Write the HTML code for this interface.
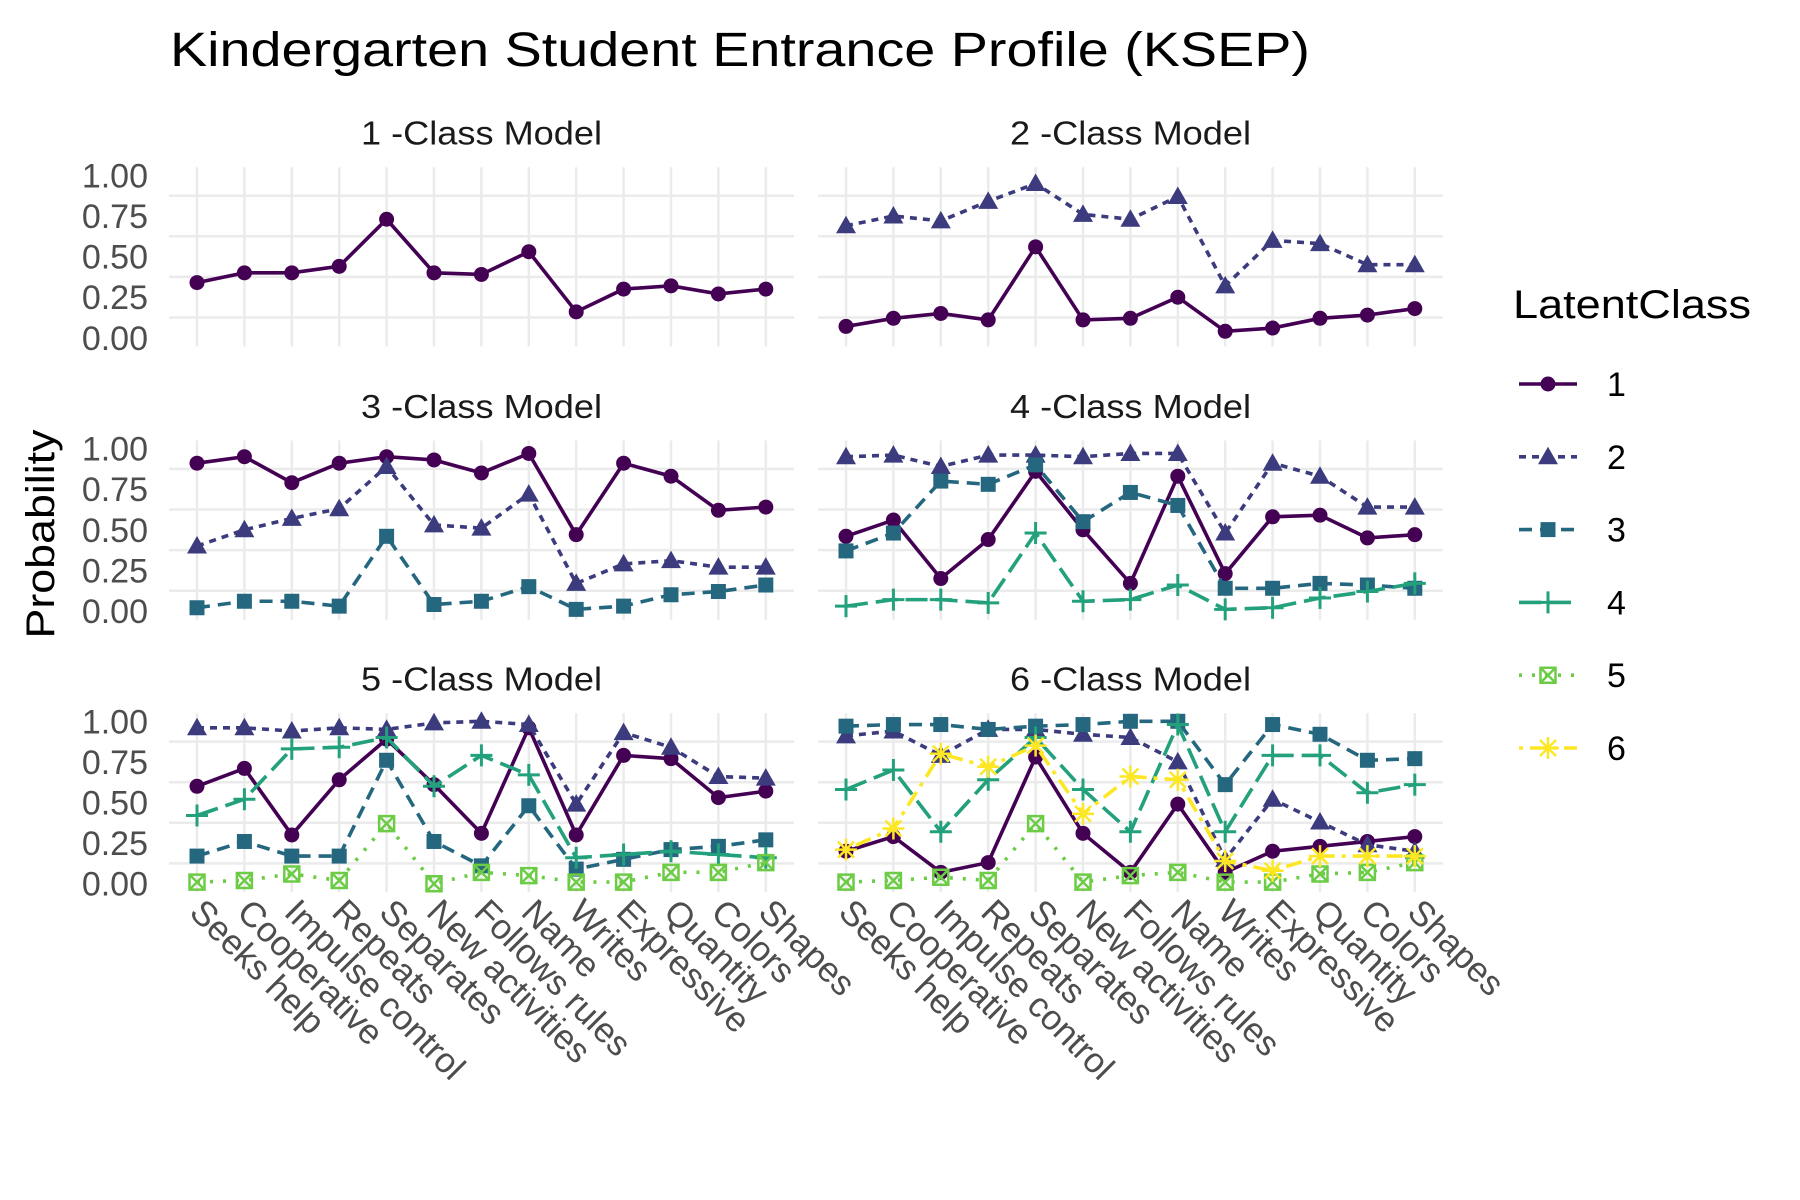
<!DOCTYPE html>
<html><head><meta charset="utf-8"><style>
html,body{margin:0;padding:0;background:#fff;}
svg{display:block;font-family:"Liberation Sans",Arial,sans-serif;}
</style></head><body>
<svg id="chart" width="1800" height="1200" viewBox="0 0 1800 1200" xmlns="http://www.w3.org/2000/svg">
<text x="170" y="66" font-size="48" textLength="1140" lengthAdjust="spacingAndGlyphs" fill="#000">Kindergarten Student Entrance Profile (KSEP)</text>
<text transform="translate(54,534) rotate(-90)" text-anchor="middle" font-size="40" textLength="209" lengthAdjust="spacingAndGlyphs" fill="#000">Probability</text>
<g id="panels"></g>
<g id="legend"></g>
</svg>
<script>
const categories = ["Seeks help","Cooperative","Impulse control","Repeats","Separates","New activities","Follows rules","Name","Writes","Expressive","Quantity","Colors","Shapes"];
const yTicks = [0,0.25,0.5,0.75,1];
const yTickLabels = ["0.00","0.25","0.50","0.75","1.00"];
const m1c1 = [0.34,0.40,0.40,0.44,0.73,0.40,0.39,0.53,0.16,0.30,0.32,0.27,0.30];
const m2c1 = [0.07,0.12,0.15,0.11,0.56,0.11,0.12,0.25,0.04,0.06,0.12,0.14,0.18];
const m2c2 = [0.69,0.75,0.72,0.84,0.95,0.76,0.73,0.87,0.32,0.60,0.58,0.45,0.45];
const m3c1 = [0.91,0.95,0.79,0.91,0.95,0.93,0.85,0.97,0.47,0.91,0.83,0.62,0.64];
const m3c2 = [0.40,0.50,0.57,0.63,0.89,0.53,0.51,0.72,0.17,0.29,0.31,0.27,0.27];
const m3c3 = [0.02,0.06,0.06,0.03,0.46,0.04,0.06,0.15,0.01,0.03,0.10,0.12,0.16];
const m4c1 = [0.46,0.56,0.20,0.44,0.86,0.50,0.17,0.83,0.23,0.58,0.59,0.45,0.47];
const m4c2 = [0.95,0.96,0.89,0.96,0.96,0.95,0.97,0.97,0.48,0.91,0.83,0.64,0.64];
const m4c3 = [0.37,0.48,0.80,0.78,0.90,0.55,0.73,0.65,0.14,0.14,0.17,0.16,0.14];
const m4c4 = [0.03,0.07,0.07,0.05,0.48,0.06,0.07,0.16,0.01,0.02,0.08,0.12,0.17];
const m5c1 = [0.60,0.71,0.30,0.64,0.89,0.61,0.31,0.96,0.30,0.79,0.77,0.53,0.57];
const m5c2 = [0.96,0.96,0.94,0.96,0.95,0.99,1.00,0.98,0.49,0.93,0.84,0.66,0.65];
const m5c3 = [0.17,0.26,0.17,0.17,0.76,0.26,0.11,0.48,0.09,0.15,0.21,0.23,0.27];
const m5c4 = [0.42,0.52,0.83,0.84,0.90,0.60,0.79,0.67,0.16,0.18,0.20,0.18,0.16];
const m5c5 = [0.01,0.02,0.06,0.02,0.37,0.00,0.07,0.05,0.01,0.01,0.07,0.07,0.13];
const m6c1 = [0.20,0.29,0.07,0.13,0.78,0.31,0.07,0.49,0.07,0.20,0.23,0.26,0.29];
const m6c2 = [0.91,0.94,0.79,0.95,0.95,0.92,0.90,0.75,0.15,0.52,0.38,0.24,0.20];
const m6c3 = [0.97,0.98,0.98,0.95,0.97,0.98,1.00,1.00,0.61,0.98,0.92,0.76,0.77];
const m6c4 = [0.58,0.70,0.32,0.64,0.90,0.58,0.32,0.98,0.32,0.79,0.79,0.56,0.61];
const m6c5 = [0.01,0.02,0.04,0.02,0.37,0.01,0.05,0.07,0.01,0.01,0.06,0.07,0.13];
const m6c6 = [0.21,0.34,0.80,0.72,0.85,0.43,0.66,0.64,0.14,0.08,0.17,0.17,0.17];
const models = [[m1c1],[m2c1,m2c2],[m3c1,m3c2,m3c3],[m4c1,m4c2,m4c3,m4c4],[m5c1,m5c2,m5c3,m5c4,m5c5],[m6c1,m6c2,m6c3,m6c4,m6c5,m6c6]];
const classLabels = ["1","2","3","4","5","6"];

const NS="http://www.w3.org/2000/svg";
const colors=["#440154","#3b3b7e","#25677f","#23a07c","#6ccc45","#fde725"];
const dashes=["none","7,6","13,8","22,8","3,10","4,7,16,7"];
const panelX=[169,818], panelW=625, rowY0=[337.8,611,883.7], unit=162.4;
function mk(tag,attrs,parent){const e=document.createElementNS(NS,tag);for(const k in attrs)e.setAttribute(k,attrs[k]);parent.appendChild(e);return e;}
function xScale(p,i){return panelX[p]+28+i*47.4;}
function yScale(r,v){return rowY0[r]-v*unit;}
function marker(g,c,x,y){
  const col=colors[c];let e;
  if(c===0){e=mk('circle',{cx:x,cy:y,r:7.5,fill:col},g);}
  else if(c===1){e=mk('polygon',{points:`${x},${y-10} ${x-10},${y+7.5} ${x+10},${y+7.5}`,fill:col},g);}
  else if(c===2){e=mk('rect',{x:x-7.5,y:y-7.5,width:15,height:15,fill:col},g);}
  else if(c===3){e=mk('path',{d:`M${x-11},${y}H${x+11}M${x},${y-11}V${y+11}`,stroke:col,'stroke-width':3,fill:'none'},g);}
  else if(c===4){e=mk('path',{d:`M${x-7.5},${y-7.5}h15v15h-15zM${x-7.5},${y-7.5}l15,15M${x+7.5},${y-7.5}l-15,15`,stroke:col,'stroke-width':2.5,fill:'none'},g);}
  else {e=mk('path',{d:`M${x-11},${y}H${x+11}M${x},${y-11}V${y+11}M${x-8},${y-8}l16,16M${x+8},${y-8}l-16,16`,stroke:col,'stroke-width':2.5,fill:'none'},g);}
  return e;
}
const panels=document.getElementById('panels');
models.forEach((series,m)=>{
  const p=m%2, r=Math.floor(m/2);
  const g=mk('g',{},panels);
  
  
  const x0=panelX[p];
  [0.125,0.375,0.625,0.875].forEach(v=>{
    const l=mk('line',{x1:x0,x2:x0+panelW,y1:yScale(r,v),y2:yScale(r,v),stroke:'#ebebeb','stroke-width':2.5},g);
    
    
  });
  categories.forEach((c,i)=>{
    const l=mk('line',{x1:xScale(p,i),x2:xScale(p,i),y1:yScale(r,1.05),y2:yScale(r,-0.053),stroke:'#ebebeb','stroke-width':2.5},g);
    
    
  });
  const t=mk('text',{x:x0+panelW/2,y:rowY0[r]-193.2,'text-anchor':'middle','font-size':33,fill:'#1a1a1a',textLength:241,lengthAdjust:'spacingAndGlyphs'},g);
  t.textContent=(m+1)+' -Class Model';
  
  
  if(p===0){
    yTicks.forEach((v,k)=>{
      const tl=mk('text',{x:148,y:yScale(r,v)+12,'text-anchor':'end','font-size':34,fill:'#4d4d4d'},g);
      tl.textContent=yTickLabels[k];
      
      
    });
  }
  if(r===2){
    categories.forEach((c,i)=>{
      const xl=mk('text',{transform:`translate(${xScale(p,i)-9},${914}) rotate(45)`,'font-size':35,fill:'#4d4d4d'},g);
      xl.textContent=c;
      
      
    });
  }
  series.forEach((vals,c)=>{
    const sg=mk('g',{},g);
    
    
    const pts=vals.map((v,i)=>xScale(p,i)+','+yScale(r,v)).join(' ');
    const pl=mk('polyline',{points:pts,fill:'none',stroke:colors[c],'stroke-width':3.6,'stroke-dasharray':dashes[c]},sg);
    
    
    vals.forEach((v,i)=>{
      const mkr=marker(sg,c,xScale(p,i),yScale(r,v));
      
      
    });
  });
});
const lg=document.getElementById('legend');


const lt=mk('text',{x:1513,y:318,'font-size':40,fill:'#000',textLength:238,lengthAdjust:'spacingAndGlyphs'},lg);
lt.textContent='LatentClass';


classLabels.forEach((lab,c)=>{
  const y=384+72.8*c;
  const eg=mk('g',{},lg);
  
  
  mk('line',{x1:1519,x2:1577,y1:y,y2:y,stroke:colors[c],'stroke-width':3.6,'stroke-dasharray':dashes[c]},eg);
  marker(eg,c,1548,y);
  const tx=mk('text',{x:1607,y:y+12,'font-size':34,fill:'#000'},eg);
  tx.textContent=lab;
});
</script>
</body></html>
